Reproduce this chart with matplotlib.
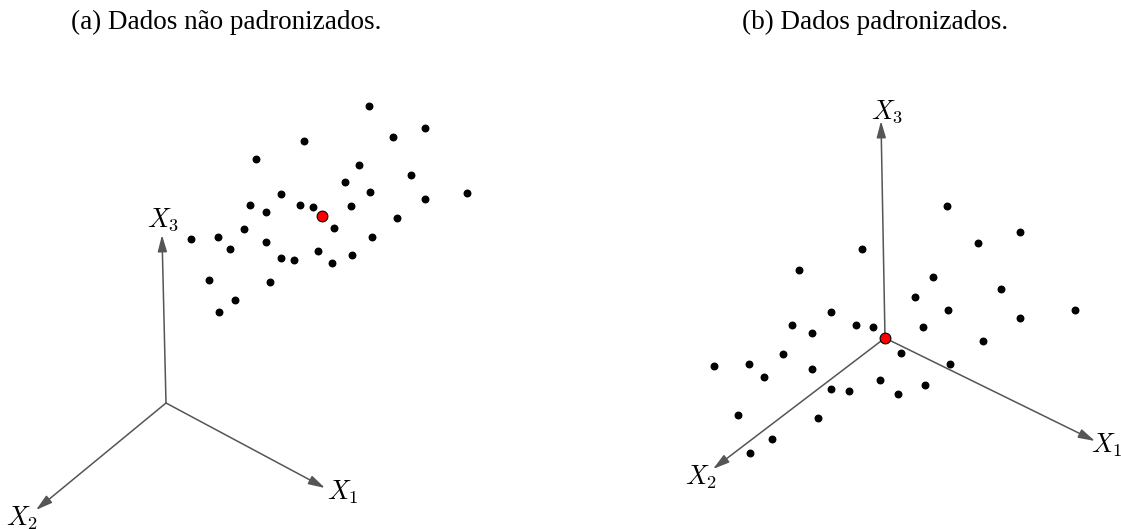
import matplotlib.pyplot as plt

plt.rcParams['mathtext.fontset'] = 'cm'

# painel (a) - dados nao padronizados (coordenadas lidas em pixels)
xa = [369, 425, 393, 304, 256, 359, 411, 345, 370, 467, 281, 425, 250, 300, 313,
      351, 266, 397, 244, 334, 191, 218, 372, 230, 266, 281, 294, 318, 332, 352,
      209, 270, 235, 219]
ya = [106, 128, 137, 141, 159, 165, 175, 182, 192, 193, 194, 199, 205, 205, 207,
      206, 212, 218, 229, 228, 239, 237, 237, 249, 242, 258, 260, 251, 263, 255,
      280, 282, 300, 312]
media_a = (322, 216)

# painel (b) - dados padronizados
xb = [947, 1020, 978, 862, 799, 933, 1001, 915, 948, 1075, 1020, 831, 792, 856,
      873, 923, 812, 983, 901, 783, 950, 714, 749, 812, 764, 880, 831, 849, 925,
      898, 738, 818, 772, 750]
yb = [206, 232, 243, 249, 270, 277, 289, 297, 310, 310, 318, 312, 325, 325,
      327, 327, 333, 341, 353, 354, 364, 366, 364, 369, 377, 380, 389, 391, 385,
      394, 415, 418, 439, 453]
media_b = (885, 338)

fig = plt.figure(figsize=(11.21, 5.29), dpi=100)
ax = fig.add_axes([0, 0, 1, 1])
ax.set_xlim(0, 1121)
ax.set_ylim(529, 0)
ax.axis('off')

def eixo(o, p, rotulo, pos_rot):
    ax.annotate('', xy=p, xytext=o,
                arrowprops=dict(arrowstyle='-|>,head_length=1.0,head_width=0.28',
                                color='#555555', lw=1.1, shrinkA=0, shrinkB=0))
    ax.text(pos_rot[0], pos_rot[1], rotulo, fontsize=19, ha='center', va='center')

# eixos do painel (a)
oa = (166, 403)
eixo(oa, (162, 235), '$X_3$', (163, 220))
eixo(oa, (325, 488), '$X_1$', (343, 492))
eixo(oa, (36, 510), '$X_2$', (22, 518))

# eixos do painel (b)
eixo(media_b, (881, 121), '$X_3$', (887, 112))
eixo(media_b, (1095, 441), '$X_1$', (1107, 445))
eixo(media_b, (713, 469), '$X_2$', (701, 477))

ax.scatter(xa, ya, s=22, color='black', zorder=3)
ax.scatter([media_a[0]], [media_a[1]], s=60, color='red', edgecolor='black',
           linewidth=0.8, zorder=4)
ax.scatter(xb, yb, s=22, color='black', zorder=3)
ax.scatter([media_b[0]], [media_b[1]], s=60, color='red', edgecolor='black',
           linewidth=0.8, zorder=4)

ax.text(226, 22, '(a) Dados não padronizados.', fontsize=19.5,
        family='Liberation Serif', ha='center', va='center')
ax.text(875, 22, '(b) Dados padronizados.', fontsize=19.5,
        family='Liberation Serif', ha='center', va='center')

fig.savefig('out.png', dpi=100)
